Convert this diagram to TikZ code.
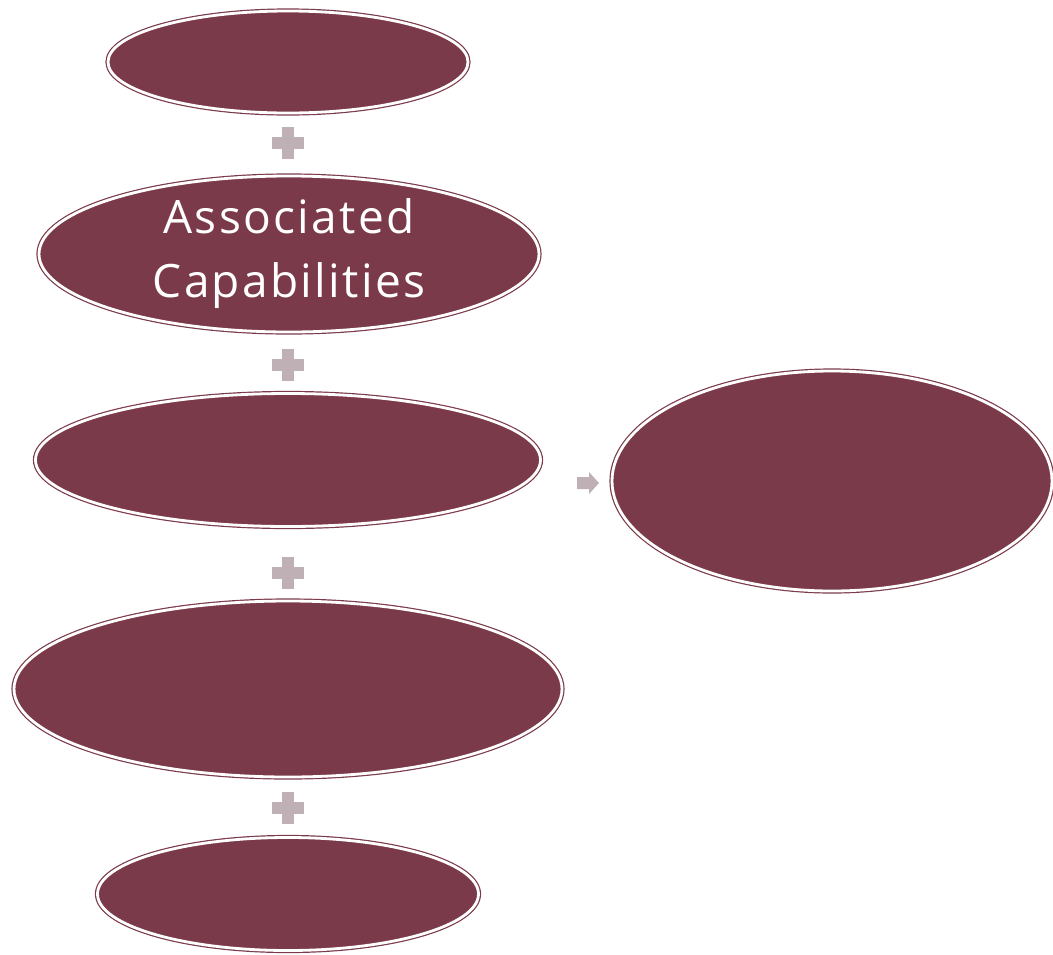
\documentclass[tikz,border=0pt]{standalone}
\usepackage{fontspec}
\setmainfont{Open Sans}[LetterSpace=5]
\usetikzlibrary{shapes.geometric,calc}
\definecolor{maroon}{HTML}{7B3A4A}
\definecolor{plusc}{HTML}{BFB0B5}
\tikzset{
  oval/.style={ellipse, fill=maroon, draw=maroon, double=white, double distance=2.8pt, line width=1.2pt, inner sep=0pt, text=white, align=center, font=\fontsize{46}{64}\selectfont},
  plusfill/.style={fill=plusc}
}
\begin{document}
\begin{tikzpicture}[x=1pt,y=-1pt]
\useasboundingbox (0,0) rectangle (1053,954);
\node[oval, minimum width=360, minimum height=102] (e1) at (288,62) {};
\node[oval, minimum width=500, minimum height=156] (e2) at (289,254) {Associated\\Capabilities};
\node[oval, minimum width=505, minimum height=133] (e3) at (288,460) {};
\node[oval, minimum width=548, minimum height=176] (e4) at (288,689) {};
\node[oval, minimum width=381, minimum height=113] (e5) at (288,894) {};
\node[oval, minimum width=440, minimum height=220] (e6) at (832,481) {};
\foreach \n/\y in {p1/143,p2/365,p3/573,p4/808}{
  \coordinate (\n) at (288,\y);
  \fill[plusfill] ($(\n)+(-16,-6)$) rectangle ($(\n)+(16,6)$);
  \fill[plusfill] ($(\n)+(-6,-16)$) rectangle ($(\n)+(6,16)$);
}
\coordinate (ar) at (588,483);
\fill[plusfill] ($(ar)+(-11,-6)$) -- ($(ar)+(1,-6)$) -- ($(ar)+(1,-11)$) -- ($(ar)+(11,0)$) -- ($(ar)+(1,11)$) -- ($(ar)+(1,6)$) -- ($(ar)+(-11,6)$) -- cycle;
\end{tikzpicture}
\end{document}
